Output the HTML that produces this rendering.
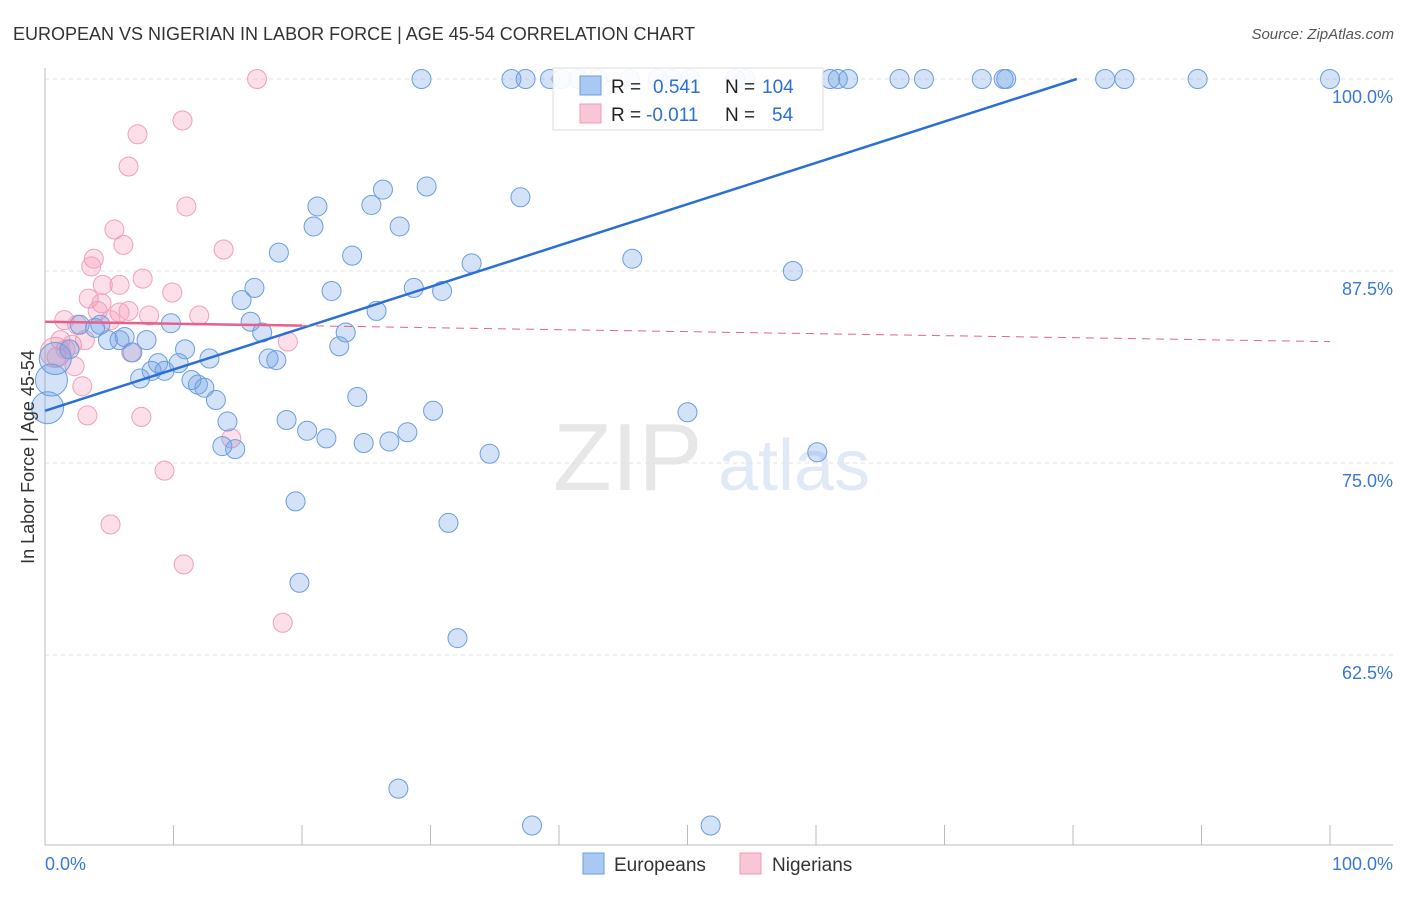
<!DOCTYPE html>
<html><head><meta charset="utf-8"><style>
body{margin:0;background:#fff;font-family:"Liberation Sans",sans-serif}
svg text{font-family:"Liberation Sans",sans-serif}
</style></head><body>
<svg id="chart" width="1406" height="892" viewBox="0 0 1406 892" xmlns="http://www.w3.org/2000/svg">
<text x="13" y="40" font-size="18" fill="#333">EUROPEAN VS NIGERIAN IN LABOR FORCE | AGE 45-54 CORRELATION CHART</text>
<text x="1394" y="39" font-size="15" fill="#555" text-anchor="end" font-style="italic">Source: ZipAtlas.com</text>
<g opacity="0.35">
<text x="553" y="490" font-size="96" font-family="Liberation Serif,serif" fill="#bbb">ZIP</text>
<text x="718" y="490" font-size="72" fill="#a9c3e8">atlas</text>
</g>
<g id="grid"></g><g id="axes"></g><g id="pts"></g><g id="trend"></g>
<text transform="translate(34,457) rotate(-90)" font-size="18" fill="#333" text-anchor="middle">In Labor Force | Age 45-54</text>
<g>
<rect x="553" y="68" width="270" height="62" fill="#fff" fill-opacity="0.9" stroke="#ddd"/>
<rect x="580" y="76" width="21" height="19" fill="#a9c8f2" stroke="#6a9ee0"/>
<rect x="580" y="104" width="21" height="19" fill="#f9c6d5" stroke="#f09ab5"/>
<text x="611" y="93" font-size="19" fill="#222">R = </text><text x="653" y="93" font-size="19" fill="#2b6fd6">0.541</text>
<text x="725" y="93" font-size="19" fill="#222">N = </text><text x="762" y="93" font-size="19" fill="#2b6fd6">104</text>
<text x="611" y="121" font-size="19" fill="#222">R = </text><text x="646" y="121" font-size="19" fill="#2b6fd6">-0.011</text>
<text x="725" y="121" font-size="19" fill="#222">N = </text><text x="772" y="121" font-size="19" fill="#2b6fd6">54</text>
</g>
<g>
<rect x="583" y="853" width="21" height="21" fill="#a9c8f2" stroke="#6a9ee0"/>
<text x="614" y="871" font-size="19" fill="#333">Europeans</text>
<rect x="740" y="853" width="21" height="21" fill="#f9c6d5" stroke="#f09ab5"/>
<text x="772" y="871" font-size="19" fill="#333">Nigerians</text>
</g>
<text x="45" y="870" font-size="18" fill="#3a78d8">0.0%</text>
<text x="1393" y="870" font-size="18" fill="#3a78d8" text-anchor="end">100.0%</text>
</svg>
<script>
const yTicks=[100,87.5,75,62.5];
const yTickLabels=["100.0%","87.5%","75.0%","62.5%"];
const xTicks=[0,10,20,30,40,50,60,70,80,90,100];
const euroX=[29.3,36.3,37.4,39.3,40.2,41.5,43.0,45.5,47.7,48.8,50.2,53.7,54.5,61.1,61.7,62.5,66.5,68.4,72.9,74.6,74.8,82.5,84.0,89.7,100,
29.7,26.3,25.4,21.2,20.9,27.6,37.0,18.2,23.9,33.2,45.7,58.2,16.3,22.3,28.7,30.9,15.3,25.8,16.0,9.8,16.9,23.4,22.9,2.7,3.9,4.3,4.9,5.8,6.2,7.9,1.9,6.8,10.9,12.8,17.4,18.0,8.8,10.4,8.3,9.3,7.4,11.4,11.9,12.4,13.3,24.3,30.2,50.0,14.2,18.8,20.4,21.9,28.2,24.8,26.8,13.8,14.8,34.6,60.1,19.5,31.4,19.8,32.1,27.5,37.9,51.8,0.2,0.5,0.8];
const euroY=[100,100,100,100,100,100,100,100,100,100,100,100,100,100,100,100,100,100,100,100,100,100,100,100,100,
93.0,92.8,91.8,91.7,90.4,90.4,92.3,88.7,88.5,88.0,88.3,87.5,86.4,86.2,86.4,86.2,85.6,84.9,84.2,84.1,83.5,83.5,82.6,84.0,83.8,84.0,83.0,83.0,83.2,83.0,82.4,82.2,82.4,81.8,81.8,81.7,81.5,81.5,81.0,81.0,80.5,80.4,80.1,79.9,79.1,79.3,78.4,78.3,77.7,77.8,77.1,76.6,77.0,76.3,76.4,76.1,75.9,75.6,75.7,72.5,71.1,67.2,63.6,53.8,51.4,51.4,78.6,80.4,81.8];
const nigX=[16.5,10.7,7.2,6.5,11.0,5.4,13.9,6.1,3.8,3.6,7.6,9.9,5.8,4.5,3.4,4.4,6.5,12.0,8.1,5.8,4.1,1.5,2.5,5.1,18.9,1.2,2.1,3.1,1.6,6.7,0.9,2.3,2.9,3.3,7.5,14.5,9.3,5.1,10.8,18.5,0.8];
const nigY=[100,97.3,96.4,94.3,91.7,90.2,88.9,89.2,88.3,87.8,87.0,86.1,86.6,86.6,85.7,85.4,84.9,84.6,84.6,84.8,84.9,84.3,84.0,84.3,82.9,83.0,82.7,83.0,82.4,82.2,81.9,81.3,80.0,78.1,78.0,76.6,74.5,71.0,68.4,64.6,82.2];
const euroTrend=[78.4,0.269];
const nigTrend=[84.2,-0.013];
const NS="http://www.w3.org/2000/svg";
const X=v=>45+v*12.85, Y=v=>79+(100-v)*15.36;
function mk(t,a,p){const e=document.createElementNS(NS,t);for(const k in a)e.setAttribute(k,a[k]);p.appendChild(e);return e;}
const grid=document.getElementById('grid');
yTicks.forEach((t,i)=>{
 const l=mk('line',{x1:45,x2:1393,y1:Y(t),y2:Y(t),stroke:'#e2e2e2','stroke-dasharray':'4,4'},grid);
 
 
 const tx=mk('text',{x:1393,y:Y(t)+24,'font-size':18,fill:'#3a78d8','text-anchor':'end'},grid);
 tx.textContent=yTickLabels[i];
 
 
});
const axes=document.getElementById('axes');
const ya=mk('line',{x1:45,x2:45,y1:68,y2:845,stroke:'#bbb'},axes);


const xa=mk('line',{x1:45,x2:1393,y1:845,y2:845,stroke:'#bbb'},axes);


xTicks.forEach(t=>{
 const l=mk('line',{x1:X(t),x2:X(t),y1:825,y2:845,stroke:'#bbb'},axes);
 
 
});
const pts=document.getElementById('pts');
nigX.forEach((x,i)=>{
 const c=mk('circle',{cx:X(x),cy:Y(nigY[i]),r:i==nigX.length-1?15:9.5,fill:'rgba(245,150,180,0.3)',stroke:'#f0a0ba','stroke-width':1},pts);
 
 
});
euroX.forEach((x,i)=>{
 const c=mk('circle',{cx:X(x),cy:Y(euroY[i]),r:i>=euroX.length-3?16:9.5,fill:'rgba(110,160,230,0.3)',stroke:'#6a9ee0','stroke-width':1},pts);
 
 
});
const tr=document.getElementById('trend');
const xe=(100-euroTrend[0])/euroTrend[1];
const bl=mk('line',{x1:X(0),y1:Y(euroTrend[0]),x2:X(xe),y2:Y(100),stroke:'#2b6fd6','stroke-width':2.5},tr);


const p1=mk('line',{x1:X(0),y1:Y(nigTrend[0]),x2:X(20),y2:Y(nigTrend[0]+20*nigTrend[1]),stroke:'#e8608a','stroke-width':2.5},tr);


const p2=mk('line',{x1:X(20),y1:Y(nigTrend[0]+20*nigTrend[1]),x2:X(100),y2:Y(nigTrend[0]+100*nigTrend[1]),stroke:'#e8608a','stroke-width':1,'stroke-dasharray':'8,6'},tr);


</script>
</body></html>
